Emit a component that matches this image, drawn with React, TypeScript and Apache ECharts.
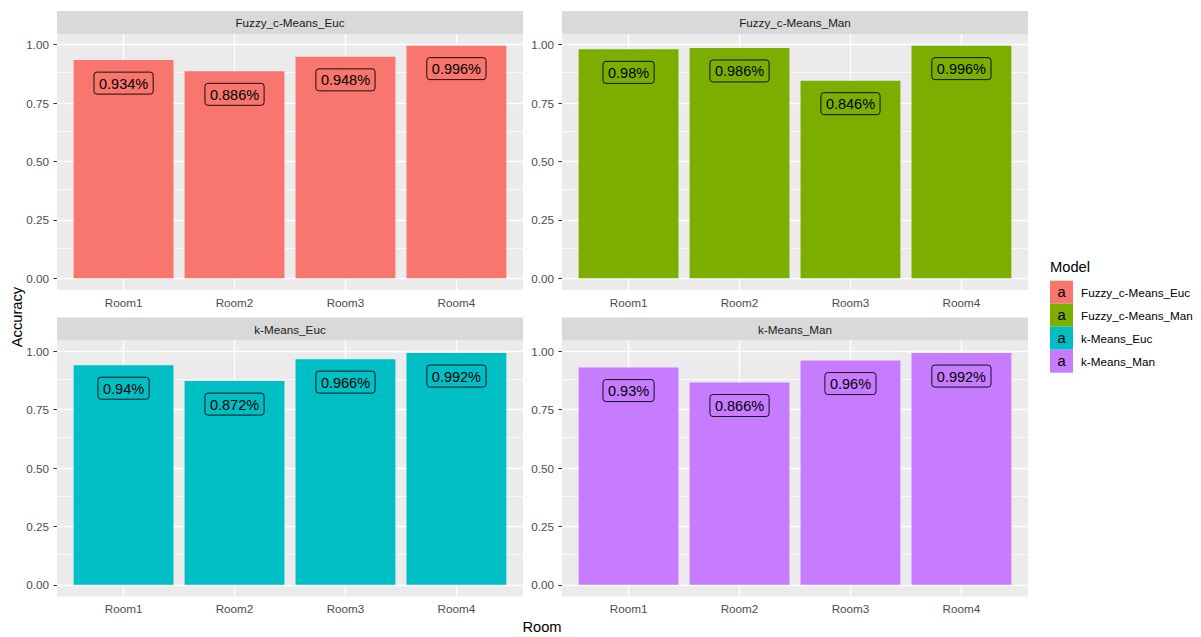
import React, { useEffect, useRef } from 'react';
import * as echarts from 'echarts';

const rooms = ['Room1', 'Room2', 'Room3', 'Room4'];
const models = ['Fuzzy_c-Means_Euc', 'Fuzzy_c-Means_Man', 'k-Means_Euc', 'k-Means_Man'];
const fuzzyEuc = [0.934, 0.886, 0.948, 0.996];
const fuzzyMan = [0.98, 0.986, 0.846, 0.996];
const kMeansEuc = [0.94, 0.872, 0.966, 0.992];
const kMeansMan = [0.93, 0.866, 0.96, 0.992];
const modelColors = ['#F8766D', '#7CAE00', '#00BFC4', '#C77CFF'];
const yTicks = [0, 0.25, 0.5, 0.75, 1];
const yMinor = [0.125, 0.375, 0.625, 0.875];
const xTicks = [1, 2, 3, 4];

const panelValues = [fuzzyEuc, fuzzyMan, kMeansEuc, kMeansMan];

const FONT = "'Liberation Sans', Arial, sans-serif";
const LEFTS = [57, 562];
const TOPS = [34, 340.5];
const W = 466;
const H = 256;
const STRIP_H = 23;

export default function App() {
  const ref = useRef<HTMLDivElement>(null);
  useEffect(() => {
    if (!ref.current) return;
    const chart = echarts.init(ref.current, null, { renderer: 'svg' });
    const grids: any[] = [];
    const xAxes: any[] = [];
    const yAxes: any[] = [];
    const series: any[] = [];
    const graphic: any[] = [];
    const barWidth = (W / 4.2) * 0.9;

    panelValues.forEach((vals, i) => {
      const left = LEFTS[i % 2];
      const top = TOPS[Math.floor(i / 2)];
      grids.push({
        left, top, width: W, height: H, show: true,
        backgroundColor: '#EBEBEB', borderWidth: 0,
      });
      xAxes.push({
        gridIndex: i, type: 'value', min: 0.4, max: 4.6,
        axisLine: { show: false },
        splitLine: { show: false },
        axisTick: { show: true, customValues: xTicks, length: 3.6, lineStyle: { color: '#333333', width: 1 } },
        axisLabel: {
          customValues: xTicks,
          formatter: (v: number) => rooms[Math.round(v) - 1] ?? '',
          color: '#4D4D4D', fontSize: 11.7, margin: 6, fontFamily: FONT,
        },
      });
      yAxes.push({
        gridIndex: i, type: 'value', min: -0.0498, max: 1.0458,
        axisLine: { show: false },
        splitLine: { show: false },
        axisTick: { show: true, customValues: yTicks, length: 3.6, lineStyle: { color: '#333333', width: 1 } },
        axisLabel: {
          customValues: yTicks,
          formatter: (v: number) => v.toFixed(2),
          color: '#4D4D4D', fontSize: 11.7, margin: 8, fontFamily: FONT,
        },
      });
      series.push({
        type: 'bar', name: models[i], xAxisIndex: i, yAxisIndex: i,
        data: vals.map((v, j) => [j + 1, v]),
        barWidth, z: 3,
        itemStyle: { color: modelColors[i] },
        label: {
          show: true, position: 'insideTop', distance: 12,
          formatter: (p: any) => `${p.value[1]}%`,
          color: '#000000', fontSize: 14.5, fontFamily: FONT,
          borderColor: '#000000', borderWidth: 0.9, borderRadius: 3,
          padding: [4, 5, 3, 5],
        },
        emphasis: { disabled: true },
        markLine: {
          silent: true, symbol: 'none', z: 1, animation: false,
          label: { show: false },
          emphasis: { disabled: true },
          lineStyle: { color: '#FFFFFF', type: 'solid', width: 1.4 },
          data: [
            ...yMinor.map((v) => ({ yAxis: v, lineStyle: { color: '#FFFFFF', type: 'solid', width: 0.7 } })),
            ...yTicks.map((v) => ({ yAxis: v })),
            ...xTicks.map((v) => ({ xAxis: v })),
          ],
        },
      });
      // strip
      graphic.push({
        type: 'rect', shape: { x: left, y: top - STRIP_H, width: W, height: STRIP_H },
        style: { fill: '#D9D9D9' }, silent: true,
      });
      graphic.push({
        type: 'text', x: left + W / 2, y: top - STRIP_H / 2,
        style: { text: models[i], fill: '#1A1A1A', fontSize: 11.7, fontFamily: FONT, align: 'center', verticalAlign: 'middle' },
        silent: true,
      });
    });

    // axis titles
    graphic.push({
      type: 'text', x: 17, y: 317, rotation: Math.PI / 2,
      style: { text: 'Accuracy', fill: '#000000', fontSize: 14.7, fontFamily: FONT, align: 'center', verticalAlign: 'middle' },
    });
    graphic.push({
      type: 'text', x: 542, y: 627,
      style: { text: 'Room', fill: '#000000', fontSize: 14.7, fontFamily: FONT, align: 'center', verticalAlign: 'middle' },
    });

    // legend
    graphic.push({
      type: 'text', x: 1050, y: 267,
      style: { text: 'Model', fill: '#000000', fontSize: 14.7, fontFamily: FONT, align: 'left', verticalAlign: 'middle' },
    });
    models.forEach((m, k) => {
      const y0 = 280.7 + k * 23;
      graphic.push({ type: 'rect', shape: { x: 1050, y: y0, width: 23, height: 23 }, style: { fill: modelColors[k] } });
      graphic.push({
        type: 'text', x: 1061.5, y: y0 + 11.5,
        style: { text: 'a', fill: '#000000', fontSize: 14.7, fontFamily: FONT, align: 'center', verticalAlign: 'middle' },
      });
      graphic.push({
        type: 'text', x: 1081, y: y0 + 11.5,
        style: { text: m, fill: '#000000', fontSize: 11.7, fontFamily: FONT, align: 'left', verticalAlign: 'middle' },
      });
    });

    chart.setOption({
      animation: false,
      backgroundColor: '#FFFFFF',
      textStyle: { fontFamily: FONT },
      grid: grids,
      xAxis: xAxes,
      yAxis: yAxes,
      series,
      graphic,
    });
    return () => chart.dispose();
  }, []);
  return <div ref={ref} style={{ position: 'fixed', left: 0, top: 0, width: 1201, height: 637 }} />;
}
